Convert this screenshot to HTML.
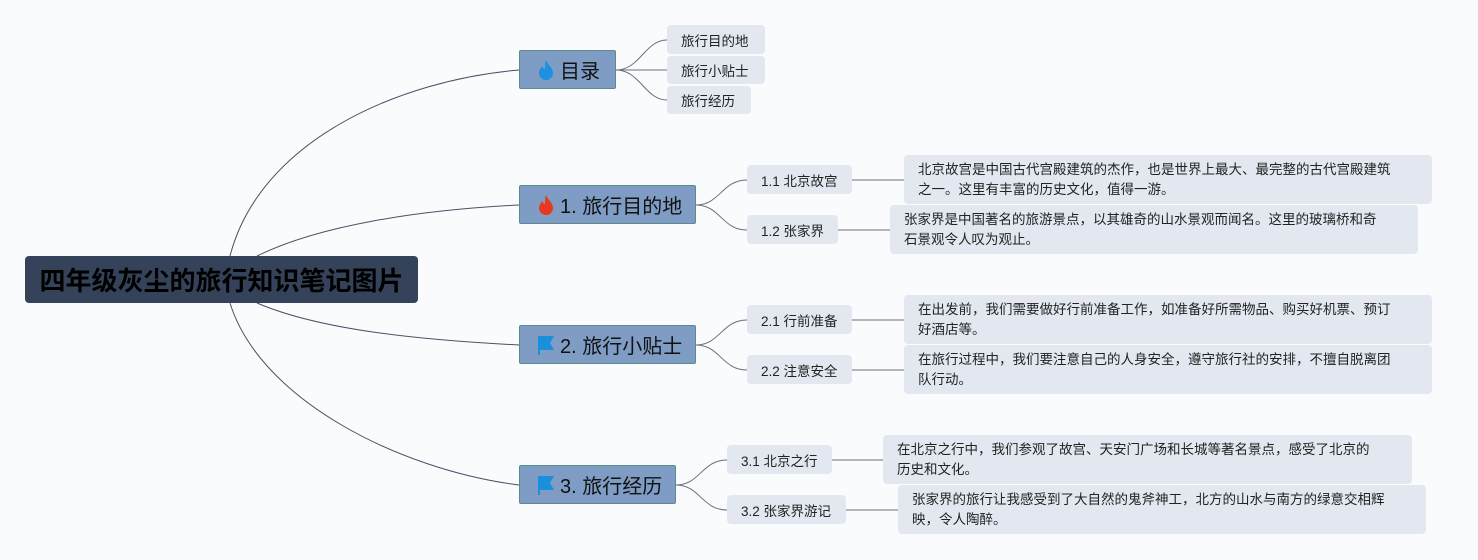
<!DOCTYPE html>
<html><head><meta charset="utf-8"><style>
body{margin:0;width:1478px;height:560px;background:#fafbfc;overflow:hidden;position:relative;font-family:"Liberation Sans","Noto Sans CJK SC",sans-serif}
.b{position:absolute;box-sizing:border-box}
.root{background:#34435a;border-radius:4px;color:#000;font-weight:bold;font-size:26px;display:flex;align-items:center;justify-content:center}
.m{background:#7f9cc4;border:1px solid #5d8a8e;border-radius:2px;color:#111;font-size:20px;display:flex;align-items:center;padding-left:16px}
.s{background:#e3e8f0;border-radius:4px;color:#222;font-size:13.5px;display:flex;align-items:center;padding-left:14px}
.d{background:#e3e8f0;border-radius:4px;color:#222;font-size:13.5px;line-height:20px;padding:5px 30px 5px 14px}
.ic{display:inline-block;width:20px;margin-right:4px}
</style></head><body>
<svg class="b" style="left:0;top:0" width="1478" height="560" fill="none" stroke="#4a5068" stroke-width="1">
<path d="M230 256 C260 140 400 80 519 70"/>
<path d="M257 256 C320 225 420 210 519 205"/>
<path d="M257 303 C320 330 420 340 519 345"/>
<path d="M230 303 C260 400 400 470 519 485"/>
<g stroke="#6a6f80">
<path d="M616 70 C640 70 645 40 667 40"/><path d="M616 70 L667 70"/><path d="M616 70 C640 70 645 100 667 100"/>
<path d="M696 205 C720 205 722 180 747 180"/><path d="M696 205 C720 205 722 230 747 230"/>
<path d="M696 345 C720 345 722 320 747 320"/><path d="M696 345 C720 345 722 370 747 370"/>
<path d="M676 485 C700 485 702 460 727 460"/><path d="M676 485 C700 485 702 510 727 510"/>
<path d="M852 180 L904 180"/><path d="M838 230 L890 230"/>
<path d="M852 320 L904 320"/><path d="M852 370 L904 370"/>
<path d="M832 460 L883 460"/><path d="M846 510 L898 510"/>
</g>
</svg>
<div class="b root" style="left:25px;top:256px;width:393px;height:47px">四年级灰尘的旅行知识笔记图片</div>

<div class="b m" style="left:519px;top:50px;width:97px;height:39px"><svg class="ic" width="20" height="22" viewBox="0 0 20 22"><path d="M10 1C12 6 17 9 17 14a7 7 0 0 1-14 0c0-3 2-5 3-7 1 2 2 3 3 3C9 7 9 4 10 1z" fill="#1e90e0"/></svg>目录</div>
<div class="b m" style="left:519px;top:185px;width:177px;height:39px"><svg class="ic" width="20" height="22" viewBox="0 0 20 22"><path d="M10 1C12 6 17 9 17 14a7 7 0 0 1-14 0c0-3 2-5 3-7 1 2 2 3 3 3C9 7 9 4 10 1z" fill="#e8391e"/></svg>1. 旅行目的地</div>
<div class="b m" style="left:519px;top:325px;width:177px;height:39px"><svg class="ic" width="20" height="22" viewBox="0 0 20 22"><path d="M2 2h16l-4 7 4 7H4v5H2z" fill="#1a8fdc"/></svg>2. 旅行小贴士</div>
<div class="b m" style="left:519px;top:465px;width:157px;height:39px"><svg class="ic" width="20" height="22" viewBox="0 0 20 22"><path d="M2 2h16l-4 7 4 7H4v5H2z" fill="#1a8fdc"/></svg>3. 旅行经历</div>

<div class="b s" style="left:667px;top:25px;width:98px;height:29px">旅行目的地</div>
<div class="b s" style="left:667px;top:56px;width:98px;height:28px">旅行小贴士</div>
<div class="b s" style="left:667px;top:86px;width:84px;height:28px">旅行经历</div>

<div class="b s" style="left:747px;top:165px;width:105px;height:29px">1.1 北京故宫</div>
<div class="b s" style="left:747px;top:215px;width:91px;height:29px">1.2 张家界</div>
<div class="b s" style="left:747px;top:305px;width:105px;height:29px">2.1 行前准备</div>
<div class="b s" style="left:747px;top:355px;width:105px;height:29px">2.2 注意安全</div>
<div class="b s" style="left:727px;top:445px;width:105px;height:29px">3.1 北京之行</div>
<div class="b s" style="left:727px;top:495px;width:119px;height:29px">3.2 张家界游记</div>

<div class="b d" style="left:904px;top:155px;width:528px;height:49px">北京故宫是中国古代宫殿建筑的杰作，也是世界上最大、最完整的古代宫殿建筑之一。这里有丰富的历史文化，值得一游。</div>
<div class="b d" style="left:890px;top:205px;width:528px;height:49px">张家界是中国著名的旅游景点，以其雄奇的山水景观而闻名。这里的玻璃桥和奇石景观令人叹为观止。</div>
<div class="b d" style="left:904px;top:295px;width:528px;height:49px">在出发前，我们需要做好行前准备工作，如准备好所需物品、购买好机票、预订好酒店等。</div>
<div class="b d" style="left:904px;top:345px;width:528px;height:49px">在旅行过程中，我们要注意自己的人身安全，遵守旅行社的安排，不擅自脱离团队行动。</div>
<div class="b d" style="left:883px;top:435px;width:529px;height:49px">在北京之行中，我们参观了故宫、天安门广场和长城等著名景点，感受了北京的历史和文化。</div>
<div class="b d" style="left:898px;top:485px;width:528px;height:49px">张家界的旅行让我感受到了大自然的鬼斧神工，北方的山水与南方的绿意交相辉映，令人陶醉。</div>
</body></html>
